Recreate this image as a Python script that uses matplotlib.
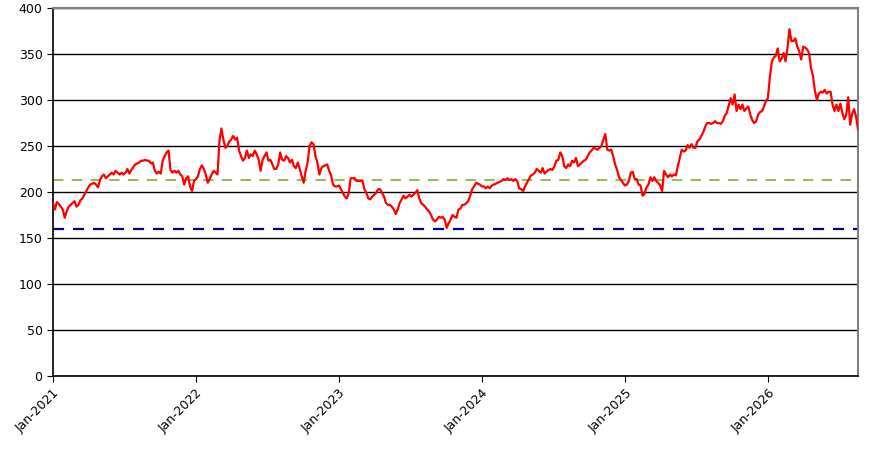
import numpy as np
import pandas as pd
import matplotlib.pyplot as plt
import matplotlib.dates as mdates

# price series, one reading every 5 days from Jan 2021
start_date = '2021-01-01'
step = '5D'
values = [
    188, 181, 189, 187, 184, 181, 172, 179, 184, 186,
    188, 190, 184, 186, 191, 193, 197, 201, 205, 208,
    209, 210, 208, 205, 213, 217, 219, 215, 217, 219,
    221, 219, 223, 221, 219, 221, 219, 221, 225, 220,
    224, 227, 230, 231, 232, 234, 234, 235, 234, 234,
    231, 232, 223, 220, 222, 220, 234, 239, 243, 245,
    224, 221, 223, 221, 223, 219, 217, 208, 215, 217,
    206, 201, 212, 214, 217, 225, 229, 225, 219, 210,
    214, 219, 223, 221, 219, 256, 269, 257, 248, 250,
    255, 257, 261, 257, 259, 245, 239, 234, 237, 245,
    237, 241, 239, 245, 241, 235, 223, 235, 239, 243,
    234, 235, 230, 225, 225, 230, 243, 235, 234, 239,
    237, 232, 235, 228, 226, 232, 225, 217, 210, 223,
    232, 250, 254, 252, 239, 232, 219, 226, 228, 229,
    230, 223, 218, 208, 206, 206, 207, 203, 199, 195,
    193, 199, 215, 215, 215, 212, 212, 212, 212, 203,
    199, 193, 192, 195, 197, 199, 203, 203, 199, 195,
    188, 186, 186, 184, 181, 176, 181, 188, 192, 196,
    193, 195, 197, 195, 197, 199, 202, 193, 188, 186,
    184, 181, 179, 175, 170, 168, 170, 173, 172, 173,
    170, 161, 166, 170, 175, 173, 172, 181, 182, 186,
    186, 188, 190, 196, 203, 206, 210, 209, 208, 206,
    206, 204, 206, 204, 207, 208, 209, 210, 211, 212,
    214, 213, 215, 213, 214, 212, 214, 212, 204, 203,
    201, 206, 210, 214, 218, 219, 221, 225, 223, 221,
    226, 220, 222, 224, 225, 224, 228, 234, 235, 243,
    239, 228, 226, 230, 228, 234, 232, 237, 228, 230,
    232, 234, 235, 239, 243, 245, 248, 247, 246, 248,
    250, 257, 263, 246, 245, 246, 239, 230, 224, 216,
    213, 210, 207, 208, 212, 221, 222, 214, 214, 208,
    207, 196, 198, 205, 208, 216, 212, 216, 212, 210,
    207, 201, 223, 219, 216, 219, 217, 219, 218, 228,
    237, 246, 244, 245, 251, 248, 252, 248, 248, 255,
    257, 261, 265, 271, 275, 275, 274, 275, 277, 275,
    275, 274, 277, 283, 286, 294, 302, 295, 306, 288,
    295, 290, 295, 288, 291, 293, 284, 278, 275, 277,
    284, 287, 288, 293, 299, 302, 325, 342, 346, 348,
    356, 342, 345, 351, 342, 357, 377, 364, 364, 367,
    358, 353, 344, 358, 357, 355, 351, 335, 326, 310,
    300, 307, 309, 308, 311, 307, 309, 309, 295, 288,
    295, 288, 296, 286, 279, 284, 303, 273, 285, 290,
    282, 268,
]
dates = pd.date_range(start_date, periods=len(values), freq=step)

upper_level = 213
lower_level = 160

fig = plt.figure(figsize=(8.83, 4.49), dpi=100)
ax = fig.add_axes([0.060, 0.1626, 0.9117, 0.8196])

ax.plot(dates, values, color='#FF0000', linewidth=1.6, zorder=3)
ax.axhline(upper_level, color='#9BBB59', linewidth=1.5, linestyle=(0, (5, 4)), zorder=2)
ax.axhline(lower_level, color='#000080', linewidth=1.6, linestyle=(0, (5, 4)), zorder=2)

ax.set_ylim(0, 400)
ax.set_yticks(range(0, 401, 50))
ax.set_xlim(dates[0], dates[-1])
ax.xaxis.set_major_locator(mdates.YearLocator())
ax.xaxis.set_major_formatter(mdates.DateFormatter('%b-%Y'))

ax.yaxis.grid(True, color='black', linewidth=1)
ax.set_axisbelow(True)

for side in ['top', 'right']:
    ax.spines[side].set_color('#808080')
    ax.spines[side].set_linewidth(1.5)
for side in ['left', 'bottom']:
    ax.spines[side].set_color('black')
    ax.spines[side].set_linewidth(1.2)

ax.tick_params(axis='both', labelsize=9, length=4, direction='out')
plt.setp(ax.get_xticklabels(), rotation=45, ha='right', rotation_mode='anchor')

fig.savefig('out.png', dpi=100)
